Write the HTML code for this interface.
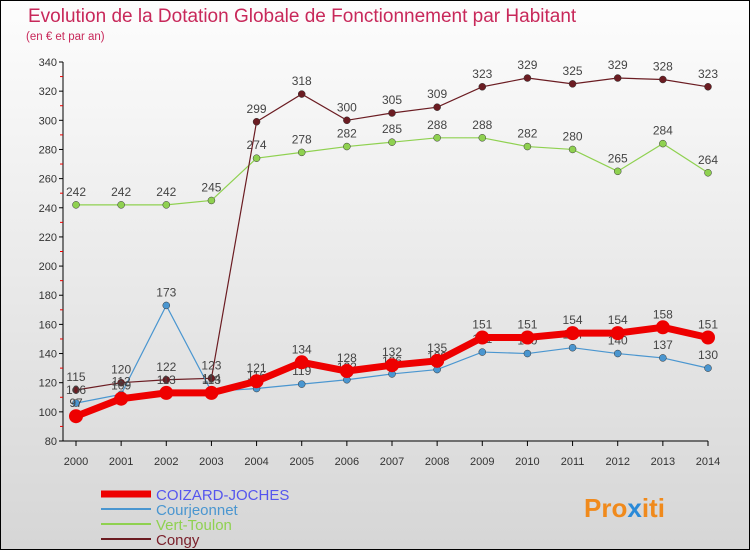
<!DOCTYPE html>
<html><head><meta charset="utf-8"><style>
body{margin:0;}
#c{width:748px;height:548px;border:1px solid #000;background:linear-gradient(#fdfdfd,#d6d6d6);position:relative;overflow:hidden;font-family:"Liberation Sans",sans-serif;}
svg{position:absolute;left:0;top:0}
</style></head><body>
<div id="c">
<svg id="s" width="750" height="550">
<text x="27" y="21" font-size="19" fill="#c8285a">Evolution de la Dotation Globale de Fonctionnement par Habitant</text>
<text x="25" y="39" font-size="11.5" fill="#c8285a">(en € et par an)</text>
<text x="583" y="516" font-size="26" font-weight="bold" fill="#f08a1c">Pro<tspan fill="#2a8ad8">x</tspan>iti</text>
</svg>
</div>
<script>
const years=[2000,2001,2002,2003,2004,2005,2006,2007,2008,2009,2010,2011,2012,2013,2014];
const coizard=[97,109,113,113,121,134,128,132,135,151,151,154,154,158,151];
const courjeonnet=[106,112,173,114,116,119,122,126,129,141,140,144,140,137,130];
const vertToulon=[242,242,242,245,274,278,282,285,288,288,282,280,265,284,264];
const congy=[115,120,122,123,299,318,300,305,309,323,329,325,329,328,323];
const yTicks=[80,100,120,140,160,180,200,220,240,260,280,300,320,340];
const NS='http://www.w3.org/2000/svg';
const s=document.getElementById('s');
const X=i=>75+i*(707-75)/14;
const Y=v=>440-(v-80)*(379/260);
function el(t,a,p){const e=document.createElementNS(NS,t);for(const k in a)e.setAttribute(k,a[k]);(p||s).appendChild(e);return e;}
const ax=el('g',{});


el('line',{x1:62,y1:61,x2:62,y2:440,stroke:'#000'},ax);
el('line',{x1:62,y1:440,x2:707,y2:440,stroke:'#000'},ax);
yTicks.forEach(v=>{
 el('line',{x1:58,y1:Y(v),x2:62,y2:Y(v),stroke:'#000'},ax);
 if(v<340) el('line',{x1:59,y1:Y(v+10),x2:62,y2:Y(v+10),stroke:'#e00'},ax);
 const t=el('text',{x:56,y:Y(v)+4,'font-size':11,'text-anchor':'end',fill:'#333'},ax);
 
 
 t.textContent=v;
});
years.forEach((y,i)=>{
 el('line',{x1:X(i),y1:440,x2:X(i),y2:445,stroke:'#000'},ax);
 const t=el('text',{x:X(i),y:464,'font-size':11,'text-anchor':'middle',fill:'#333'},ax);
 
 
 t.textContent=y;
});
function series(name,data,color,w,r,lab){
 const g=el('g',{});
 
 
 el('polyline',{points:data.map((v,i)=>X(i)+','+Y(v)).join(' '),fill:'none',stroke:color,'stroke-width':w},g);
 data.forEach((v,i)=>{
  const c=el('circle',{cx:X(i),cy:Y(v),r:r,fill:color,stroke:w>3?'none':'#333','stroke-width':0.5},g);
  
  
  const t=el('text',{x:X(i),y:Y(v)-9,'font-size':12,'text-anchor':'middle',fill:'#444'},g);
  
  
  t.textContent=v;
 });
}
series('vert-toulon',vertToulon,'#8fd150',1.2,3.5);
series('congy',congy,'#6b1c22',1.2,3.5);
series('courjeonnet',courjeonnet,'#4a96d0',1.2,3.5);
series('coizard-joches',coizard,'#ee0000',7,7);
const leg=[['COIZARD-JOCHES','#ee0000',7,'#5555ee'],['Courjeonnet','#4a96d0',2,'#4a96d0'],['Vert-Toulon','#8fd150',2,'#8fd150'],['Congy','#6b1c22',2,'#7a1f2a']];
leg.forEach((l,i)=>{
 const g=el('g',{});
 
 
 const y=493+i*15;
 el('line',{x1:100,y1:y,x2:150,y2:y,stroke:l[1],'stroke-width':l[2]},g);
 const t=el('text',{x:155,y:y+6,'font-size':15,fill:l[3]},g);
 t.textContent=l[0];
});
</script>
</body></html>
